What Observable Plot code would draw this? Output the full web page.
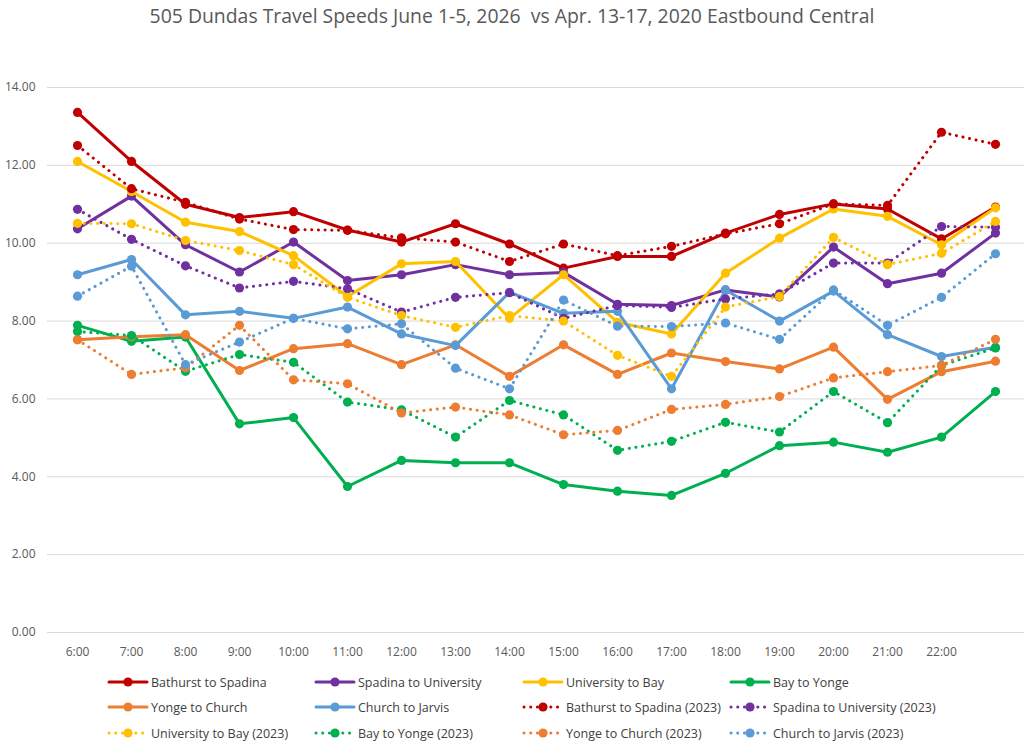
<!DOCTYPE html>
<html>
<head>
<meta charset="utf-8">
<script src="https://cdn.jsdelivr.net/npm/d3@7"></script>
<script src="https://cdn.jsdelivr.net/npm/@observablehq/plot@0.6"></script>
<style>
  html, body { margin: 0; padding: 0; background: #fff; }
  body { width: 1024px; height: 753px; position: relative; overflow: hidden; font-family: "Open Sans", "Noto Sans", sans-serif; color: #595959; }
  #title { position: absolute; top: 2px; left: 0; width: 1024px; text-align: center; font-size: 19.4px; white-space: pre; color: #595959; }
  #chart { position: absolute; top: 34px; left: 0; }
  .leg { position: absolute; display: flex; align-items: center; font-size: 12.5px; color: #404040; white-space: nowrap; }
  .leg svg { margin-right: 2px; }
</style>
</head>
<body>
<div id="title">505 Dundas Travel Speeds June 1-5, 2026  vs Apr. 13-17, 2020 Eastbound Central</div>
<div id="chart"></div>
<div id="legend"></div>
<script>
const hours = ["6:00","7:00","8:00","9:00","10:00","11:00","12:00","13:00","14:00","15:00","16:00","17:00","18:00","19:00","20:00","21:00","22:00","23:00"];
const tickLabels = ["6:00","7:00","8:00","9:00","10:00","11:00","12:00","13:00","14:00","15:00","16:00","17:00","18:00","19:00","20:00","21:00","22:00"];
const yTicks = [0, 2, 4, 6, 8, 10, 12, 14];

const seriesNames = [
  "Bathurst to Spadina", "Spadina to University", "University to Bay", "Bay to Yonge",
  "Yonge to Church", "Church to Jarvis",
  "Bathurst to Spadina (2023)", "Spadina to University (2023)", "University to Bay (2023)",
  "Bay to Yonge (2023)", "Yonge to Church (2023)", "Church to Jarvis (2023)"
];
const seriesColors = ["#C00000", "#7030A0", "#FFC000", "#00B050", "#ED7D31", "#5B9BD5",
                      "#C00000", "#7030A0", "#FFC000", "#00B050", "#ED7D31", "#5B9BD5"];

const bathurstSpadina   = [13.36,12.10,11.00,10.66,10.81,10.34,10.03,10.50,9.98,9.36,9.66,9.66,10.26,10.74,11.01,10.88,10.11,10.93];
const spadinaUniversity = [10.37,11.21,9.96,9.26,10.03,9.04,9.19,9.45,9.19,9.25,8.43,8.40,8.80,8.62,9.90,8.96,9.23,10.26];
const universityBay     = [12.10,11.33,10.54,10.30,9.68,8.63,9.47,9.53,8.07,9.19,7.97,7.67,9.23,10.13,10.88,10.69,9.96,10.91];
const bayYonge          = [7.89,7.48,7.59,5.36,5.52,3.75,4.42,4.36,4.36,3.80,3.63,3.52,4.09,4.80,4.89,4.63,5.02,6.19];
const yongeChurch       = [7.52,7.60,7.65,6.73,7.29,7.42,6.88,7.39,6.58,7.39,6.63,7.18,6.96,6.77,7.33,5.99,6.70,6.97];
const churchJarvis      = [9.19,9.58,8.16,8.25,8.07,8.36,7.67,7.37,8.74,8.20,8.25,6.26,8.80,8.00,8.77,7.65,7.09,7.33];
const bathurstSpadina23   = [12.51,11.40,11.05,10.62,10.35,10.33,10.14,10.03,9.53,9.98,9.68,9.92,10.24,10.50,11.01,10.97,12.85,12.54];
const spadinaUniversity23 = [10.87,10.10,9.42,8.85,9.02,8.83,8.23,8.61,8.73,8.07,8.40,8.35,8.57,8.70,9.49,9.49,10.43,10.41];
const universityBay23     = [10.51,10.50,10.07,9.81,9.45,8.61,8.14,7.84,8.14,8.00,7.12,6.58,8.36,8.63,10.15,9.45,9.74,10.56];
const bayYonge23          = [7.73,7.63,6.71,7.14,6.94,5.92,5.72,5.02,5.96,5.59,4.68,4.91,5.40,5.15,6.19,5.39,6.86,7.31];
const yongeChurch23       = [7.52,6.63,6.80,7.89,6.49,6.39,5.64,5.79,5.59,5.08,5.19,5.73,5.86,6.06,6.54,6.70,6.86,7.53];
const churchJarvis23      = [8.64,9.41,6.88,7.46,8.07,7.80,7.93,6.79,6.26,8.54,7.87,7.86,7.95,7.53,8.80,7.89,8.61,9.73];

const seriesValues = [bathurstSpadina, spadinaUniversity, universityBay, bayYonge, yongeChurch, churchJarvis,
  bathurstSpadina23, spadinaUniversity23, universityBay23, bayYonge23, yongeChurch23, churchJarvis23];

const font = '"Open Sans", "Noto Sans", sans-serif';
const dotted = "0.1 6.6";

const marks = [
  Plot.ruleY(yTicks, {stroke: "#D9D9D9", strokeWidth: 1}),
  Plot.axisY({ticks: yTicks, tickSize: 0, tickPadding: 12, tickFormat: d => d.toFixed(2), fill: "#595959", fontSize: 12, label: null}),
  Plot.axisX({ticks: tickLabels, tickSize: 0, tickPadding: 15, fill: "#595959", fontSize: 12, label: null})
];
seriesNames.forEach((name, i) => {
  const rows = hours.map((h, j) => ({hour: h, value: seriesValues[i][j]}));
  const isDot = i >= 6;
  marks.push(Plot.line(rows, {
    x: "hour", y: "value", stroke: seriesColors[i], strokeWidth: 3,
    strokeDasharray: isDot ? dotted : null, strokeLinecap: "round", strokeLinejoin: "round", curve: "linear"
  }));
  marks.push(Plot.dot(rows, {x: "hour", y: "value", r: 4.6, fill: seriesColors[i], stroke: "none"}));
});

const chart = Plot.plot({
  width: 1024, height: 630,
  marginLeft: 47, marginRight: 0, marginTop: 53, marginBottom: 32,
  x: {type: "point", domain: hours, range: [74, 997], padding: 0, axis: null, label: null},
  y: {domain: [0, 14], axis: null, label: null},
  style: {fontFamily: font, background: "white", overflow: "visible"},
  marks
});
document.getElementById("chart").appendChild(chart);

// legend
const legendCols = [107, 314, 522, 729];
const legendRows = [682, 707, 733];
const legend = document.getElementById("legend");
seriesNames.forEach((name, i) => {
  const col = i % 4, row = Math.floor(i / 4);
  const isDot = i >= 6;
  const div = document.createElement("div");
  div.className = "leg";
  div.style.left = legendCols[col] + "px";
  div.style.top = (legendRows[row] - 9) + "px";
  div.style.height = "18px";
  const c = seriesColors[i];
  div.innerHTML = `<svg width="42" height="18"><line x1="2" x2="40" y1="9" y2="9" stroke="${c}" stroke-width="3" stroke-linecap="round" ${isDot ? `stroke-dasharray="${dotted}"` : ""}/><circle cx="21" cy="9" r="4.6" fill="${c}"/></svg><span>${name}</span>`;
  legend.appendChild(div);
});
</script>
</body>
</html>
